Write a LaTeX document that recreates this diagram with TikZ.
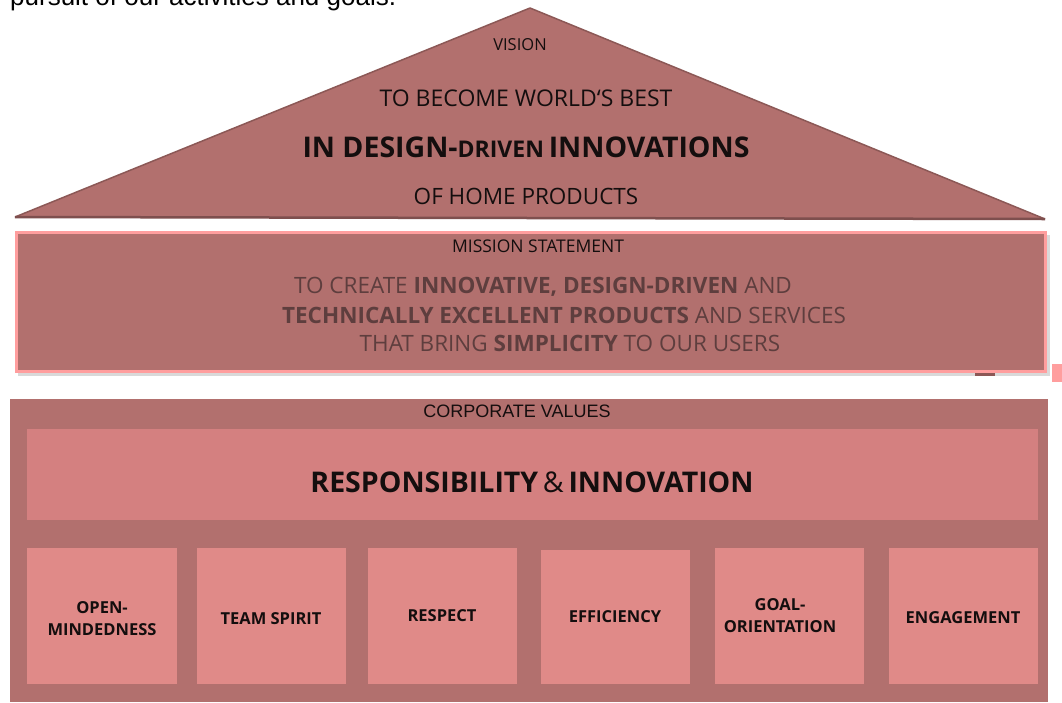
\documentclass[tikz,border=0pt]{standalone}
\usepackage{fontspec}
\setmainfont{Open Sans}
\newfontfamily\arialfont{Liberation Sans}
\usepackage{tikz}
\usetikzlibrary{calc}

\definecolor{roofred}{RGB}{178,112,110}
\definecolor{roofline}{RGB}{140,88,86}
\definecolor{missionrim}{RGB}{255,158,158}
\definecolor{bannerred}{RGB}{212,128,128}
\definecolor{valuered}{RGB}{224,138,136}
\definecolor{missiontext}{RGB}{94,62,62}
\definecolor{darktext}{RGB}{20,14,14}

\begin{document}
\begin{tikzpicture}[x=1pt,y=-1pt,
    lbl/.style={inner sep=0pt, text=darktext, align=center},
    valuebox/.style={fill=valuered},
    valuetxt/.style={lbl, font=\fontsize{16.5}{22}\selectfont\bfseries}]
            \useasboundingbox (0,0) rectangle (1062,702);
            \clip (0,0) rectangle (1062,702);
            \fill[white] (0,0) rectangle (1062,702);

            % Cut off line of text above the house
            \node[anchor=base west, inner sep=0pt, font=\arialfont\fontsize{26}{30}\selectfont] (intro) at (10,5) {pursuit of our activities and goals.};

            % Draw the roof (vision)
            \coordinate (L) at (15,217);
            \coordinate (T) at (530,8);
            \coordinate (R) at (1045,219);
            \fill[roofred] (L) -- (T) -- (R) -- cycle;
            \draw[roofline, line width=1.5pt, line join=round] (L) -- (T) -- (R);
            \draw[roofline!90!black, line width=2.5pt] (L) -- (R);

            \node[lbl, font=\fontsize{16.5}{20}\selectfont] (vision) at (520,45) {VISION};
            \node[lbl, font=\fontsize{23}{26}\selectfont] (best) at (526,98) {TO BECOME WORLD`S BEST};
            \node[lbl, font=\fontsize{28.5}{30}\selectfont\bfseries] (innov) at (526,147) {IN DESIGN-{\fontsize{23}{24}\selectfont DRIVEN}\,INNOVATIONS};
            \node[lbl, font=\fontsize{22.5}{26}\selectfont] (home) at (526,196) {OF HOME PRODUCTS};

            % Mission statement box
            \fill[black!15] (18,235) rectangle (1050,376);
            \fill[missionrim] (15,231) rectangle (1047,373);
            \fill[roofred] (18,234) rectangle (1044,370);
            \fill[roofline] (975,373) rectangle (995,376);
            \fill[missionrim] (1052,364) rectangle (1062,382);

            \node[lbl, font=\fontsize{17.5}{18}\selectfont] (mission) at (538,246) {MISSION STATEMENT};
            \node[lbl, text=missiontext, font=\fontsize{22.5}{24}\selectfont] (mline1) at (543,287) {TO CREATE \textbf{INNOVATIVE, DESIGN-DRIVEN} AND};
            \node[lbl, text=missiontext, font=\fontsize{22.5}{24}\selectfont] (mline2) at (564,315) {\textbf{TECHNICALLY EXCELLENT PRODUCTS} AND SERVICES};
            \node[lbl, text=missiontext, font=\fontsize{22.5}{24}\selectfont] (mline3) at (570,343) {THAT BRING \textbf{SIMPLICITY} TO OUR USERS};

            % Corporate values base
            \fill[roofred] (10,399) rectangle (1048,702);
            \node[lbl, font=\arialfont\fontsize{18}{20}\selectfont] (corp) at (517,411) {CORPORATE VALUES};

            \fill[bannerred] (27,429) rectangle (1038,520);
            \node[lbl, font=\fontsize{28.5}{30}\selectfont\bfseries] (resp) at (532,482) {RESPONSIBILITY\,{\mdseries\&}\,INNOVATION};

            % Six values
            \fill[valuebox] (27,548) rectangle (177,684);
            \fill[valuebox] (197,548) rectangle (346,684);
            \fill[valuebox] (368,548) rectangle (517,684);
            \fill[valuebox] (541,550) rectangle (690,684);
            \fill[valuebox] (715,548) rectangle (864,684);
            \fill[valuebox] (889,548) rectangle (1038,684);

            \node[valuetxt] (open) at (102,619) {OPEN-\\MINDEDNESS};
            \node[valuetxt] (team) at (271,619) {TEAM SPIRIT};
            \node[valuetxt] (respect) at (442,616) {RESPECT};
            \node[valuetxt] (effic) at (615,617) {EFFICIENCY};
            \node[valuetxt] (goal) at (780,616) {GOAL-\\ORIENTATION};
            \node[valuetxt] (engage) at (963,618) {ENGAGEMENT};
        \end{tikzpicture}
\end{document}
